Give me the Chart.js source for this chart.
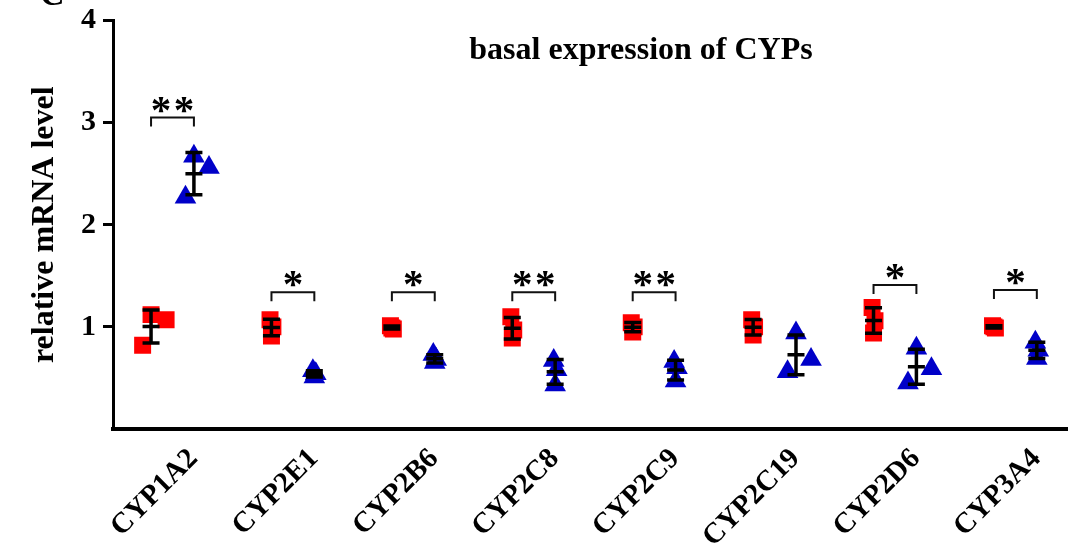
<!DOCTYPE html>
<html>
<head>
<meta charset="utf-8">
<script src="https://cdn.jsdelivr.net/npm/chart.js@4"></script>
<style>
  html, body { margin: 0; padding: 0; background: #fff; }
</style>
</head>
<body>
<canvas id="cyp-chart" width="1068" height="552"></canvas>
<script>
const genes = ['CYP1A2', 'CYP2E1', 'CYP2B6', 'CYP2C8', 'CYP2C9', 'CYP2C19', 'CYP2D6', 'CYP3A4'];

// three replicates per gene (fold of control)
const controlValues = [
  [0.82, 1.12, 1.07],
  [1.07, 1.00, 0.91],
  [1.01, 0.98, 0.99],
  [1.10, 0.97, 0.89],
  [1.04, 1.00, 0.95],
  [1.07, 1.00, 0.92],
  [1.19, 1.06, 0.94],
  [1.01, 0.99, 1.00]
];
const treatedValues = [
  [2.27, 2.67, 2.56],
  [0.57, 0.54, 0.51],
  [0.73, 0.68, 0.65],
  [0.67, 0.58, 0.43],
  [0.66, 0.60, 0.47],
  [0.56, 0.94, 0.68],
  [0.45, 0.79, 0.59],
  [0.85, 0.77, 0.69]
];

const significance = ['**', '*', '*', '**', '**', '', '*', '*'];
const bracketLevels = [3.05, 1.34, 1.34, 1.34, 1.34, null, 1.41, 1.36];
const yTicks = [1, 2, 3, 4];

// columns whose replicates get spread sideways
const controlSpread = [true, false, false, false, false, false, false, false];
const treatedSpread = [true, false, false, false, false, true, true, false];

const PAIR = 0.178;
const wideJitter = [-0.07, 0, 0.125];
const tightJitter = [-0.012, 0.012, 0];

const RED = '#ff0000';
const BLUE = '#0000c8';
const SERIF = '"Liberation Serif", "Times New Roman", serif';

function mean(a) { return a.reduce((s, v) => s + v, 0) / a.length; }
function sd(a) {
  const m = mean(a);
  return Math.sqrt(a.reduce((s, v) => s + (v - m) ** 2, 0) / (a.length - 1));
}

function toPoints(groups, shift, spread) {
  const pts = [];
  groups.forEach((vals, i) => {
    const jit = spread[i] ? wideJitter : tightJitter;
    vals.forEach((v, j) => pts.push({ x: i + shift + jit[j], y: v }));
  });
  return pts;
}

// mean ± SD bars, significance brackets, title
const overlay = {
  id: 'overlay',
  afterDatasetsDraw(chart) {
    const { ctx, scales: { x, y } } = chart;
    ctx.save();

    ctx.strokeStyle = '#000';
    ctx.lineWidth = 3.5;
    [[controlValues, -PAIR], [treatedValues, PAIR]].forEach(([groups, shift]) => {
      groups.forEach((vals, i) => {
        const px = x.getPixelForValue(i + shift);
        const m = mean(vals), s = sd(vals);
        const top = y.getPixelForValue(m + s);
        const mid = y.getPixelForValue(m);
        const bot = y.getPixelForValue(m - s);
        ctx.beginPath();
        ctx.moveTo(px, top);
        ctx.lineTo(px, bot);
        [top, mid, bot].forEach(py => {
          ctx.moveTo(px - 8.5, py);
          ctx.lineTo(px + 8.5, py);
        });
        ctx.stroke();
      });
    });

    ctx.lineWidth = 2;
    ctx.strokeStyle = '#111';
    ctx.fillStyle = '#000';
    ctx.font = 'bold 41px ' + SERIF;
    ctx.textAlign = 'center';
    const starBox = ctx.measureText('*');
    bracketLevels.forEach((lvl, i) => {
      if (lvl == null) return;
      const x1 = x.getPixelForValue(i - PAIR);
      const x2 = x.getPixelForValue(i + PAIR);
      const py = y.getPixelForValue(lvl);
      ctx.beginPath();
      ctx.moveTo(x1, py + 9);
      ctx.lineTo(x1, py);
      ctx.lineTo(x2, py);
      ctx.lineTo(x2, py + 9);
      ctx.stroke();
      const stars = significance[i];
      const cx = (x1 + x2) / 2;
      const base = py - 5 - starBox.actualBoundingBoxDescent;
      for (let k = 0; k < stars.length; k++) {
        ctx.fillText('*', cx + (k - (stars.length - 1) / 2) * 23, base);
      }
    });

    ctx.textAlign = 'center';
    ctx.font = 'bold 32px ' + SERIF;
    ctx.fillText('basal expression of CYPs', 641, 58.5);

    ctx.textAlign = 'left';
    ctx.font = 'bold 34px ' + SERIF;
    ctx.fillText('C', 40, 5);
    ctx.restore();
  }
};

new Chart(document.getElementById('cyp-chart'), {
  type: 'scatter',
  data: {
    datasets: [
      {
        label: 'control',
        data: toPoints(controlValues, -PAIR, controlSpread),
        pointStyle: 'rect',
        pointRadius: 12,
        backgroundColor: RED,
        borderWidth: 0
      },
      {
        label: 'treated',
        data: toPoints(treatedValues, PAIR, treatedSpread),
        pointStyle: 'triangle',
        pointRadius: 12.5,
        backgroundColor: BLUE,
        borderWidth: 0
      }
    ]
  },
  options: {
    responsive: false,
    animation: false,
    layout: { autoPadding: false, padding: { top: 20.5, left: 0, right: 0, bottom: 0 } },
    plugins: { legend: { display: false }, tooltip: { enabled: false } },
    scales: {
      x: {
        type: 'linear',
        min: -0.494,
        max: 7.437,
        afterBuildTicks: s => { s.ticks = genes.map((g, i) => ({ value: i })); },
        afterFit: s => {
          s.height = 123;
          s.paddingLeft = 0;
          s.paddingRight = 0;
        },
        grid: { display: true, drawOnChartArea: false, drawTicks: false },
        border: { display: true, color: '#000', width: 4 },
        ticks: {
          autoSkip: false,
          minRotation: 45,
          maxRotation: 45,
          labelOffset: 21,
          padding: 13,
          color: '#000',
          font: { family: SERIF, weight: 'bold', size: 29 },
          callback: v => genes[v]
        }
      },
      y: {
        min: 0,
        max: 4,
        afterBuildTicks: s => { s.ticks = yTicks.map(v => ({ value: v })); },
        afterFit: s => {
          s.width = 113;
          s.paddingTop = 0;
          s.paddingBottom = 0;
        },
        grid: { drawOnChartArea: false, drawTicks: true, tickLength: 10, tickWidth: 3, tickColor: '#000' },
        border: { display: true, color: '#000', width: 3 },
        title: {
          display: true,
          text: 'relative mRNA level',
          color: '#000',
          font: { family: SERIF, weight: 'bold', size: 32 },
          padding: { top: 26, bottom: 0 }
        },
        ticks: {
          color: '#000',
          padding: 7,
          font: { family: SERIF, weight: 'bold', size: 30 }
        }
      }
    }
  },
  plugins: [overlay]
});
</script>
</body>
</html>
